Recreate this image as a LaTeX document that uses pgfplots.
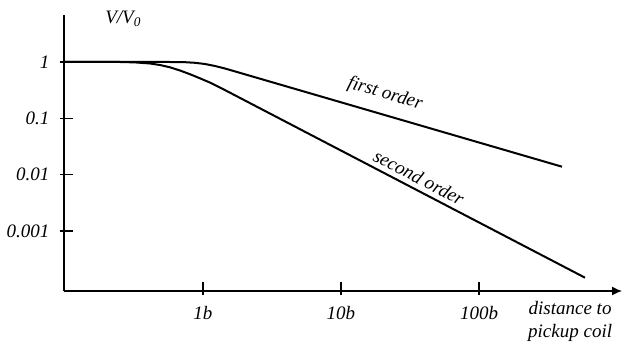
\documentclass[border=0pt]{standalone}
\usepackage{fontspec}
\setmainfont{Liberation Serif}
\usepackage{pgfplots}
\pgfplotsset{compat=1.18}
\usetikzlibrary{arrows.meta}
\pgfplotstableread{
x y
0.0984 1
0.5766 1
0.7406 0.9919
0.8750 0.9678
1.0339 0.9215
1.2218 0.8492
1.4434 0.7667
1.7061 0.6809
399.4 0.013844
}\firstorder
\pgfplotstableread{
x y
0.0984 1
0.2504 1
0.3215 0.9838
0.4128 0.9405
0.4881 0.8845
0.5766 0.8052
0.6812 0.7066
0.8049 0.6072
0.9512 0.5136
1.1238 0.4308
1.3280 0.3526
1.5694 0.2851
586.3 0.0001482
}\secondorder
\begin{document}
\begin{tikzpicture}[font=\fontsize{19pt}{22.7pt}\selectfont\itshape]
\useasboundingbox (-64pt,-54pt) rectangle (562pt,291pt);
\begin{axis}[
  at={(0pt,0pt)}, anchor=south west,
  font=\fontsize{19pt}{22.7pt}\selectfont\itshape,
  scale only axis, width=558pt, height=276pt,
  xmode=log, ymode=log,
  xmin=0.0984, xmax=1087, ymin=8.6e-5, ymax=6.83,
  axis lines=left,
  axis line style={line width=1.3pt},
  x axis line style={-{Latex[length=10pt,width=9pt]}},
  y axis line style={-},
  xtick={1,10,100}, xticklabels={1b,10b,100b},
  ytick={1,0.1,0.01,0.001}, yticklabels={1,0.1,0.01,0.001},
  xminorticks=false, yminorticks=false,
  tick align=center, major tick length=14pt,
  xtick style={line width=1.1pt, black, yshift=2.5pt},
  ytick style={line width=1.1pt, black, xshift=2.5pt},
  xticklabel style={yshift=-5pt},
  yticklabel style={xshift=-4pt},
  xlabel={distance to\\pickup coil},
  xlabel style={at={(axis description cs:0.907,-0.109)}, anchor=center, align=center},
  clip=false,
]
\addplot[black, line width=2pt, line join=round] table[x=x, y=y] {\firstorder};
\addplot[black, line width=2pt, line join=round] table[x=x, y=y] {\secondorder};
\node[rotate=-16] at (axis cs:20.84,0.2703) {first order};
\node[rotate=-27.5] at (axis cs:36.75,0.008904) {second order};
\node[anchor=center] at (rel axis cs:0.106,0.985) {V/V\textsubscript{0}};
\end{axis}
\end{tikzpicture}
\end{document}
